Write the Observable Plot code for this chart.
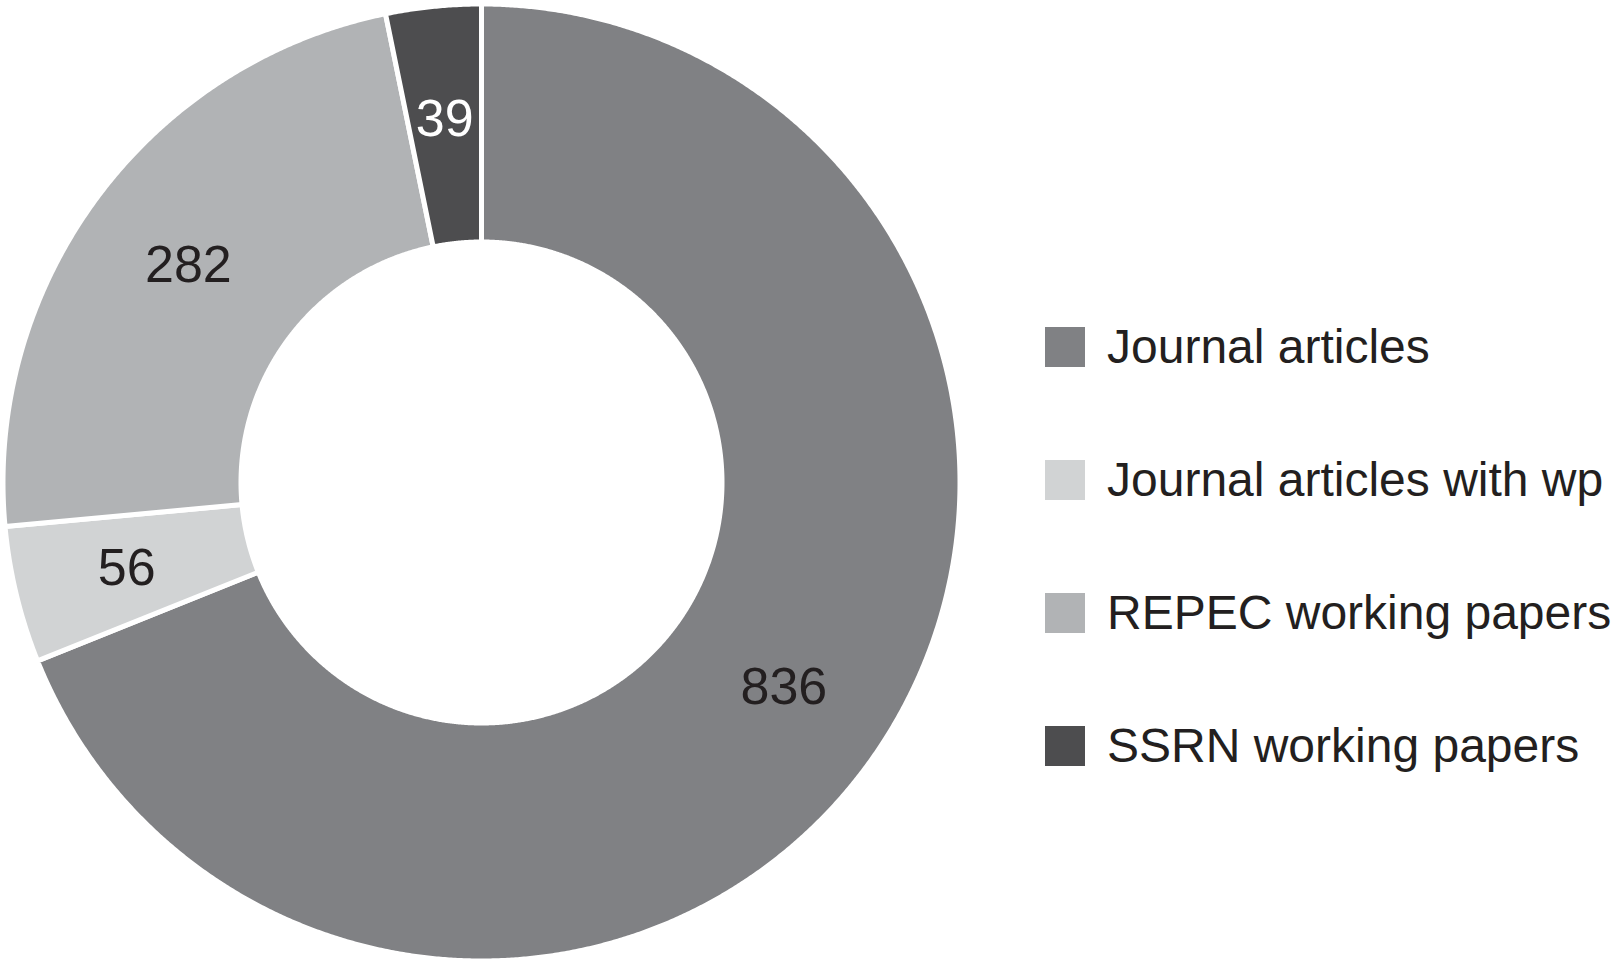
<!DOCTYPE html>
<html><head><meta charset="utf-8">
<script src="https://cdn.jsdelivr.net/npm/d3@7"></script>
<script src="https://cdn.jsdelivr.net/npm/@observablehq/plot@0.6"></script>
<style>
body{margin:0;background:#fff;font-family:"Liberation Sans",Arial,sans-serif;}
#wrap{position:relative;width:1617px;height:962px;overflow:hidden;}
#chart{position:absolute;left:0;top:0;}
#legend{position:absolute;left:1045px;top:280px;}
.row{display:flex;align-items:center;height:133px;}
.sw{width:40px;height:40px;margin-right:22px;flex:none;}
.lbl{font-size:48px;color:#231f20;white-space:nowrap;line-height:1;}
</style></head><body>
<div id="wrap"><div id="chart"></div><div id="legend"></div></div>
<script>
const categories = ["Journal articles", "Journal articles with wp", "REPEC working papers", "SSRN working papers"];
const counts = [836, 56, 282, 39];
const colors = ["#808184", "#d1d3d4", "#b1b3b5", "#4d4d4f"];
const lightLabel = [false, false, false, true];

const R = 478.5, r0 = 240.5, labelR = 365;
const data = categories.map((c, i) => ({cat: c, value: counts[i], light: lightLabel[i]}));
const arcs = d3.pie().sort(null).value(d => d.value)(data);

const pts = [];
const labels = [];
const step = Math.PI / 720;
for (const a of arcs) {
  const cat = a.data.cat;
  const poly = [];
  const n = Math.max(2, Math.ceil((a.endAngle - a.startAngle) / step));
  for (let k = 0; k <= n; k++) {
    const t = a.startAngle + (a.endAngle - a.startAngle) * k / n;
    poly.push({cat, x: R * Math.sin(t), y: -R * Math.cos(t)});
  }
  for (let k = n; k >= 0; k--) {
    const t = a.startAngle + (a.endAngle - a.startAngle) * k / n;
    poly.push({cat, x: r0 * Math.sin(t), y: -r0 * Math.cos(t)});
  }
  poly.push({...poly[0]});
  pts.push(...poly);
  const m = (a.startAngle + a.endAngle) / 2;
  labels.push({text: String(a.data.value), light: a.data.light, x: labelR * Math.sin(m), y: -labelR * Math.cos(m)});
}

const chart = Plot.plot({
  width: 962, height: 962, margin: 0,
  style: {fontFamily: "'Liberation Sans', Arial, sans-serif", background: "transparent"},
  x: {domain: [-481, 481], range: [0, 962], axis: null},
  y: {domain: [-482, 480], range: [0, 962], axis: null},
  color: {domain: categories, range: colors},
  marks: [
    Plot.line(pts, {x: "x", y: "y", z: "cat", fill: "cat", stroke: "white", strokeWidth: 5, curve: "linear"}),
    Plot.text(labels.filter(d => !d.light), {x: "x", y: "y", text: "text", fill: "#231f20", fontSize: 52}),
    Plot.text(labels.filter(d => d.light), {x: "x", y: "y", text: "text", fill: "white", fontSize: 52})
  ]
});
document.getElementById("chart").appendChild(chart);

const legend = document.getElementById("legend");
categories.forEach((c, i) => {
  const row = document.createElement("div"); row.className = "row";
  const sw = document.createElement("div"); sw.className = "sw"; sw.style.background = colors[i];
  const lb = document.createElement("div"); lb.className = "lbl"; lb.textContent = c;
  row.appendChild(sw); row.appendChild(lb); legend.appendChild(row);
});
</script>
</body></html>
